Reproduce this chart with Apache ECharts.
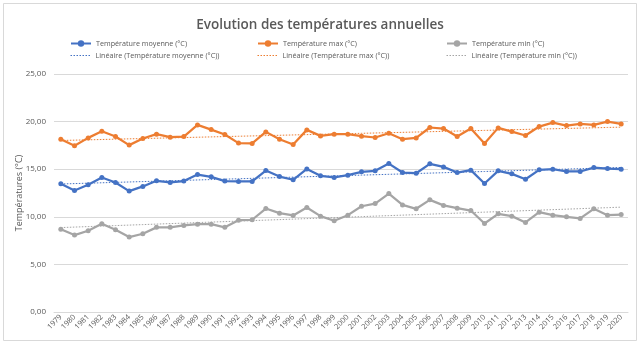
<!DOCTYPE html>
<html><head><meta charset="utf-8">
<script src="https://cdn.jsdelivr.net/npm/echarts@6/dist/echarts.min.js"></script>
<style>html,body{margin:0;padding:0;background:#fff}#c{width:640px;height:344px}</style>
</head><body><div id="c"></div>
<script>
const years = ['1979','1980','1981','1982','1983','1984','1985','1986','1987','1988','1989','1990','1991','1992','1993','1994','1995','1996','1997','1998','1999','2000','2001','2002','2003','2004','2005','2006','2007','2008','2009','2010','2011','2012','2013','2014','2015','2016','2017','2018','2019','2020'];
const tMoy = [13.47,12.77,13.36,14.13,13.61,12.70,13.19,13.78,13.61,13.75,14.44,14.20,13.75,13.71,13.71,14.86,14.23,13.89,15.03,14.30,14.13,14.37,14.72,14.83,15.59,14.65,14.58,15.56,15.24,14.65,14.90,13.50,14.83,14.51,13.95,14.93,15.00,14.76,14.76,15.17,15.07,15.00];
const tMax = [18.15,17.46,18.29,18.99,18.43,17.53,18.22,18.68,18.36,18.43,19.65,19.16,18.64,17.74,17.71,18.92,18.15,17.60,19.13,18.50,18.68,18.68,18.47,18.33,18.78,18.15,18.29,19.38,19.27,18.43,19.27,17.70,19.34,18.95,18.54,19.48,19.90,19.58,19.76,19.65,20.00,19.76];
const tMin = [8.70,8.08,8.54,9.27,8.64,7.87,8.22,8.89,8.89,9.09,9.23,9.23,8.89,9.65,9.69,10.87,10.38,10.14,10.98,10.07,9.58,10.17,11.11,11.39,12.44,11.25,10.84,11.78,11.20,10.91,10.66,9.30,10.31,10.07,9.41,10.49,10.17,10.00,9.83,10.84,10.17,10.24];
const names = ['Température moyenne (°C)','Température max (°C)','Température min (°C)'];
const trendNames = ['Linéaire (Température moyenne (°C))','Linéaire (Température max (°C))','Linéaire (Température min (°C))'];
const colors = ['#4472C4','#ED7D31','#A5A5A5'];

// Excel-style linear trendline (least squares) computed from the data
function linFit(arr){
  const n=arr.length; let sx=0,sy=0,sxy=0,sxx=0;
  arr.forEach((y,i)=>{const x=i+1;sx+=x;sy+=y;sxy+=x*y;sxx+=x*x;});
  const b=(n*sxy-sx*sy)/(n*sxx-sx*sx), a=(sy-b*sx)/n;
  return arr.map((_,i)=>+(a+b*(i+1)).toFixed(3));
}
const datasets=[tMoy,tMax,tMin];
const series=[];
datasets.forEach((d,k)=>{
  series.push({name:names[k],type:'line',data:d,symbol:'circle',symbolSize:5,
    lineStyle:{width:2.25,color:colors[k]},itemStyle:{color:colors[k]},z:3});
});
datasets.forEach((d,k)=>{
  series.push({name:trendNames[k],type:'line',data:linFit(d),symbol:'none',
    lineStyle:{width:1,type:[1.5,1.5],color:colors[k]},itemStyle:{color:colors[k]},z:2});
});
const legendX=[70,257,446];
const legends=[];
names.forEach((n,i)=>legends.push({
  data:[n],left:legendX[i],top:40,itemWidth:20,itemHeight:8,padding:0,
  textStyle:{fontSize:7.2,color:'#595959',fontFamily:'Open Sans'}
}));
trendNames.forEach((n,i)=>legends.push({
  data:[n],left:legendX[i],top:52,itemWidth:20,itemHeight:8,padding:0,
  itemStyle:{opacity:0},
  lineStyle:{width:1,type:[1.5,1.5],color:colors[i]},
  textStyle:{fontSize:7.2,color:'#595959',fontFamily:'Open Sans'}
}));
const chart=echarts.init(document.getElementById('c'),null,{renderer:'canvas'});
chart.setOption({
  animation:false,
  backgroundColor:'#fff',
  title:{text:'Evolution des températures annuelles',left:'center',top:13,
    textStyle:{fontSize:13.5,fontWeight:600,color:'#595959',fontFamily:'Open Sans'}},
  legend:legends,
  grid:{left:54,right:12,top:74,bottom:32},
  xAxis:{type:'category',data:years,boundaryGap:true,
    axisLine:{lineStyle:{color:'#d9d9d9'}},axisTick:{show:false},
    axisLabel:{rotate:45,fontSize:7.5,color:'#595959',interval:0,margin:4,fontFamily:'Open Sans'}},
  yAxis:{type:'value',min:0,max:25,interval:5,name:'Températures (°C)',nameLocation:'middle',nameGap:30,
    nameMoveOverlap:false,
    nameTextStyle:{fontSize:9,color:'#595959',fontFamily:'Open Sans'},
    axisLine:{show:false},axisTick:{show:false},
    axisLabel:{fontSize:8,color:'#595959',fontFamily:'Open Sans',formatter:v=>v.toFixed(2).replace('.',',')},
    splitLine:{lineStyle:{color:'#d9d9d9'}}},
  graphic:[{type:'rect',shape:{x:3.5,y:3.5,width:633,height:337},style:{fill:null,stroke:'#d9d9d9',lineWidth:1},silent:true}],
  series:series
});
</script></body></html>
